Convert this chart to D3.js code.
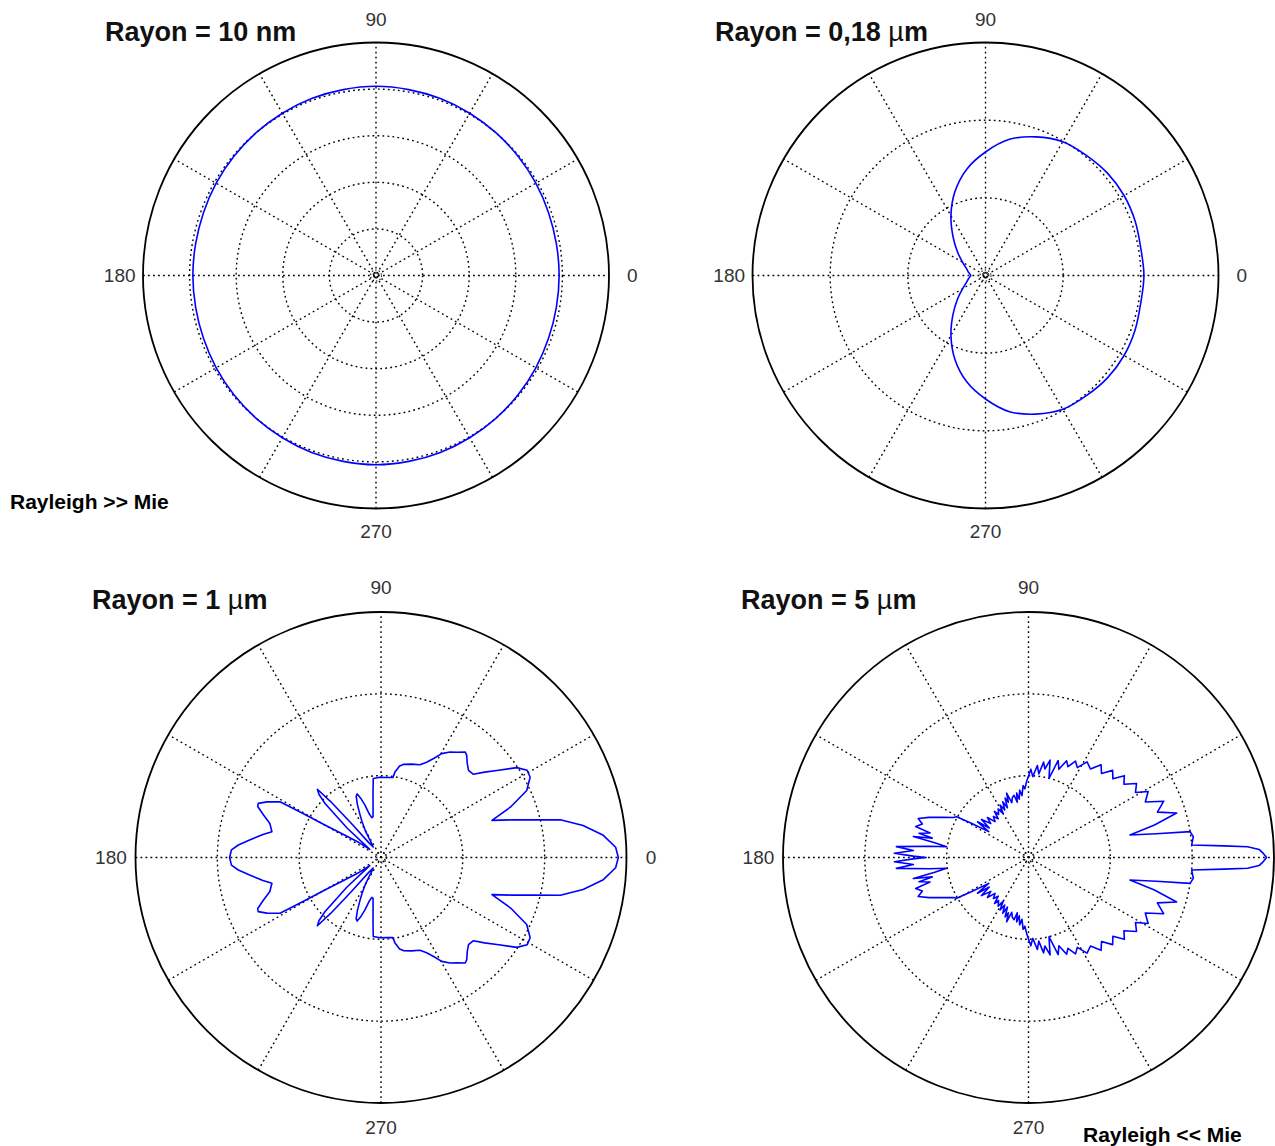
<!DOCTYPE html>
<html><head><meta charset="utf-8">
<script src="https://cdn.jsdelivr.net/npm/d3@7"></script>
<style>body{margin:0;background:#fff} svg{display:block}</style>
</head><body>
<svg id="c" width="1275" height="1146"></svg>
<script>
// ---- data ----
const tickAngles = [0, 90, 180, 270];
const tickLabels = ["0", "90", "180", "270"];
const spokeAngles = [0, 30, 60, 90, 120, 150];
const titles = ["Rayon = 10 nm", "Rayon = 0,18 µm", "Rayon = 1 µm", "Rayon = 5 µm"];
const notes = ["Rayleigh >> Mie", "Rayleigh << Mie"];
const ringCounts = [5, 3, 3, 3];

// upper half (0..180 deg); the phase functions are symmetric about the 0-180 axis
const p1Angles = [0,10,20,30,40,50,60,70,80,90,100,110,120,130,140,150,160,170,180];
const p1Radii  = [3.93,3.93,3.94,3.96,3.98,4.0,4.02,4.04,4.05,4.06,4.05,4.04,4.02,4.0,3.98,3.96,3.94,3.93,3.93];

const p2Angles = [0,10,20,30,40,50,60,70,80,90,100,110,120,130,140,150,160,170,180];
const p2Radii  = [2.04,2.03,2.05,2.06,2.05,2.02,1.99,1.90,1.78,1.59,1.39,1.15,0.89,0.65,0.47,0.34,0.26,0.22,0.19];

const p3Angles = [0,2.5,5.7,9,11.9,14,16,18.5,21.3,24.7,28.3,30.8,33.5,36.9,39.5,42,44.9,47.5,50,51.4,54,56.8,59.7,62,64.4,67.2,72,76.5,78.5,80.7,81.5,86,90.7,95.6,97,99,101,103,105,107,109,110.5,112,114,116,118,120.5,124,127,129.5,131,132,133,134.5,136,139,142,144,146,148,149.9,150.6,151.1,154,156.2,157.5,160,163,166.7,169,172.4,175,177.1,180];
const p3Radii  = [2.90,2.87,2.73,2.50,2.24,1.90,1.67,1.43,1.70,1.96,2.07,2.08,1.99,1.77,1.64,1.52,1.51,1.56,1.63,1.65,1.59,1.54,1.47,1.37,1.29,1.23,1.20,1.17,1.14,1.06,0.99,0.98,0.98,0.97,0.80,0.62,0.51,0.50,0.55,0.67,0.77,0.83,0.81,0.71,0.59,0.49,0.37,0.20,0.16,0.24,0.55,0.92,1.14,1.08,0.95,0.55,0.24,0.17,0.34,0.49,0.80,1.10,1.41,1.55,1.64,1.63,1.53,1.42,1.37,1.47,1.62,1.75,1.83,1.85];

const p4Angles = [0,1,2,2.8,3.4,4.4,7.2,9.1,10.5,12.5,14.5,16.7,19.4,22.6,25.4,28.9,31.3,34.4,37.5,40.5,43,46,49,52,55,58.5,61.5,64,66.5,68.5,71,73,75.5,77.5,79.5,81,83,84.5,87,88.5,91.4,93,94.3,96,97.5,99,100.4,101.5,103,105,107,108.8,110,111.5,113,114.8,116.5,118.5,120,122,124.8,126.5,128,130.5,133,135.8,138,141,143,145,147,149,150.4,152,155,158,160.5,162.5,164.6,166,167.5,168.6,169.7,171,172.5,173.5,175.3,176.5,178.2,179.3,180];
const p4Radii  = [2.91,2.87,2.82,2.68,2.39,2.00,2.03,2.00,1.59,1.27,1.59,1.89,1.67,1.79,1.58,1.67,1.53,1.60,1.47,1.54,1.41,1.48,1.36,1.44,1.32,1.37,1.25,1.31,1.21,1.27,1.14,1.24,1.00,1.22,1.10,1.18,1.03,1.13,0.99,1.08,0.93,0.84,0.88,0.76,0.83,0.72,0.80,0.69,0.78,0.76,0.70,0.83,0.72,0.78,0.66,0.75,0.65,0.73,0.62,0.70,0.64,0.70,0.60,0.66,0.60,0.70,0.62,0.74,0.60,0.76,0.58,0.80,1.01,1.04,1.16,1.31,1.43,1.36,1.43,1.24,1.37,1.20,1.43,1.16,1.01,1.22,1.62,1.41,1.64,1.41,1.25];

// ---- layout ----
const panels = [
  {cx: 376,    cy: 275.5, R: 233,   rings: ringCounts[0], ang: p1Angles, rad: p1Radii, title: titles[0], tx: 105, ty: 41,  smooth: true},
  {cx: 985.5,  cy: 275.5, R: 233,   rings: ringCounts[1], ang: p2Angles, rad: p2Radii, title: titles[1], tx: 715, ty: 41,  smooth: true},
  {cx: 381,    cy: 857.5, R: 245.5, rings: ringCounts[2], ang: p3Angles, rad: p3Radii, title: titles[2], tx: 92,  ty: 609, smooth: false},
  {cx: 1028.5, cy: 857.5, R: 245.5, rings: ringCounts[3], ang: p4Angles, rad: p4Radii, title: titles[3], tx: 741, ty: 609, smooth: false}
];

const W = 1275, H = 1146;
const svg = d3.select("#c");
svg.append("rect").attr("width", W).attr("height", H).attr("fill", "#fff");
const DOT = "1.8,3.2";
const FONT = "Arial, 'Liberation Sans', sans-serif";
const toRad = d => d * Math.PI / 180;

function mirror(angles, radii) {
  const pts = angles.map((a, i) => [a, radii[i]]);
  for (let i = angles.length - 2; i >= 1; i--) pts.push([360 - angles[i], radii[i]]);
  return pts;
}

panels.forEach(p => {
  const g = svg.append("g").attr("transform", `translate(${p.cx},${p.cy})`);
  const r = d3.scaleLinear().domain([0, p.rings]).range([0, p.R]);

  // rings
  g.selectAll("circle.ring").data(d3.range(1, p.rings)).join("circle")
    .attr("r", d => r(d)).attr("fill", "none")
    .attr("stroke", "#000").attr("stroke-width", 1.4).attr("stroke-dasharray", DOT);
  g.append("circle").attr("r", 5.5).attr("fill", "none")
    .attr("stroke", "#000").attr("stroke-width", 1.2).attr("stroke-dasharray", "1.3,2.2");

  // spokes
  g.selectAll("line.spoke").data(spokeAngles).join("line")
    .attr("x1", d => -r(p.rings) * Math.cos(toRad(d)))
    .attr("y1", d => r(p.rings) * Math.sin(toRad(d)))
    .attr("x2", d => r(p.rings) * Math.cos(toRad(d)))
    .attr("y2", d => -r(p.rings) * Math.sin(toRad(d)))
    .attr("stroke", "#000").attr("stroke-width", 1.4).attr("stroke-dasharray", DOT);

  // outer circle
  g.append("circle").attr("r", r(p.rings)).attr("fill", "none")
    .attr("stroke", "#000").attr("stroke-width", 1.8);

  // tick labels (only those that fall inside the page)
  const ticks = tickAngles.map((a, i) => ({a, label: tickLabels[i],
      x: 1.1 * r(p.rings) * Math.cos(toRad(a)), y: -1.1 * r(p.rings) * Math.sin(toRad(a))}))
    .filter(t => p.cx + t.x + 8 < W);
  g.selectAll("text.tick").data(ticks).join("text")
    .attr("x", d => d.x).attr("y", d => d.y)
    .attr("text-anchor", "middle").attr("dominant-baseline", "central")
    .attr("font-family", FONT).attr("font-size", 19)
    .attr("fill", "#333")
    .text(d => d.label);

  // curve
  const line = d3.lineRadial()
    .angle(d => toRad(90 - d[0]))
    .radius(d => r(d[1]))
    .curve(p.smooth ? d3.curveCatmullRomClosed.alpha(0.5) : d3.curveLinearClosed);
  g.append("path").attr("d", line(mirror(p.ang, p.rad)))
    .attr("fill", "none").attr("stroke", "#0000ff").attr("stroke-width", 1.6)
    .attr("stroke-linejoin", "round");

  // title
  const t = svg.append("text").attr("x", p.tx).attr("y", p.ty)
    .attr("font-family", FONT).attr("font-size", 27)
    .attr("font-weight", "bold").attr("fill", "#111");
  const parts = p.title.split("µ");
  t.append("tspan").text(parts[0]);
  if (parts.length > 1) {
    t.append("tspan").attr("font-weight", "normal").text("µ");
    t.append("tspan").text(parts[1]);
  }
});

// annotations
svg.append("text").attr("x", 10).attr("y", 509).text(notes[0])
  .attr("font-family", FONT).attr("font-size", 21)
  .attr("font-weight", "bold").attr("fill", "#000");
svg.append("text").attr("x", 1083).attr("y", 1142).text(notes[1])
  .attr("font-family", FONT).attr("font-size", 21)
  .attr("font-weight", "bold").attr("fill", "#000");
</script>
</body></html>
